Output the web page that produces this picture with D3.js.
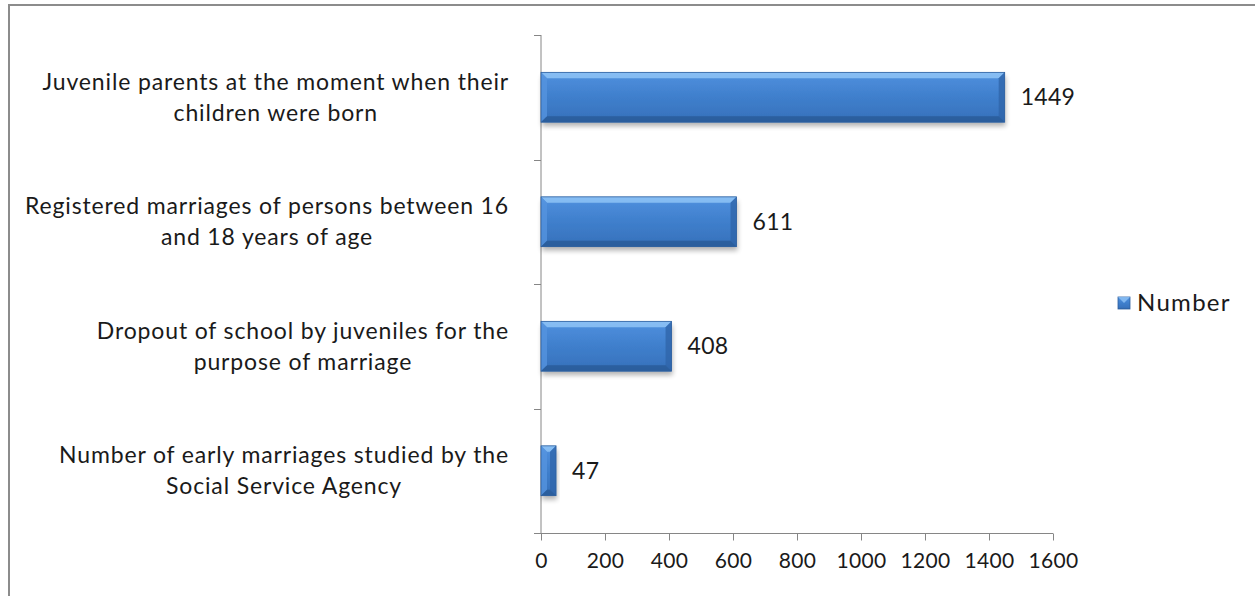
<!DOCTYPE html>
<html>
<head>
<meta charset="utf-8">
<script src="https://cdn.jsdelivr.net/npm/d3@7"></script>
<style>
  html, body { margin: 0; padding: 0; background: #fff; }
  svg { display: block; }
  text { font-family: Lato, "Open Sans", sans-serif; fill: #1a1a1a; }
</style>
</head>
<body>
<svg id="chart" width="1255" height="596"></svg>
<script>
// Category labels (top to bottom), each split into its wrapped lines
const categories = [
  ["Juvenile parents at the moment when their", "children were born"],
  ["Registered marriages of persons between 16", "and 18 years of age"],
  ["Dropout of school by juveniles for the", "purpose of marriage"],
  ["Number of early marriages studied by the", "Social Service Agency"]
];
const values = [1449, 611, 408, 47];
const xTicks = [0, 200, 400, 600, 800, 1000, 1200, 1400, 1600];
const seriesName = "Number";

const svg = d3.select("#chart");
const W = 1255, H = 596;

// outer frame (top and left edges visible)
svg.append("path")
  .attr("d", `M9,${H} L9,5 L${W},5`)
  .attr("fill", "none").attr("stroke", "#8c8c8c").attr("stroke-width", 2);

const plot = { left: 541, right: 1053, top: 35, bottom: 533 };

const x = d3.scaleLinear().domain([0, 1600]).range([plot.left, plot.right]);
const y = d3.scaleBand().domain(d3.range(categories.length))
  .range([plot.top, plot.bottom]).paddingInner(0.6).paddingOuter(0.3);

// defs: bar gradient and shadow
const defs = svg.append("defs");
const g = defs.append("linearGradient").attr("id", "barFill")
  .attr("x1", 0).attr("y1", 0).attr("x2", 0).attr("y2", 1);
[[0, "#5e9ee6"], [0.15, "#4b8bd9"], [0.5, "#3f7fcc"], [0.85, "#3975c0"], [1, "#3066aa"]]
  .forEach(([o, c]) => g.append("stop").attr("offset", o).attr("stop-color", c));

const sh = defs.append("filter").attr("id", "shadow")
  .attr("x", "-10%").attr("y", "-20%").attr("width", "130%").attr("height", "160%");
sh.append("feGaussianBlur").attr("in", "SourceAlpha").attr("stdDeviation", 2.5);
sh.append("feOffset").attr("dx", 1).attr("dy", 4).attr("result", "ob");
sh.append("feComponentTransfer").append("feFuncA").attr("type", "linear").attr("slope", 0.3);
const mg = sh.append("feMerge");
mg.append("feMergeNode");
mg.append("feMergeNode").attr("in", "SourceGraphic");

// axes
const axisColor = "#868686";
const axisG = svg.append("g");
axisG.append("line")
  .attr("x1", plot.left).attr("x2", plot.left)
  .attr("y1", plot.top).attr("y2", plot.bottom)
  .attr("stroke", axisColor);
const bandEdges = d3.range(categories.length + 1)
  .map(i => plot.top + i * (plot.bottom - plot.top) / categories.length);
axisG.selectAll("line.yt").data(bandEdges).join("line")
  .attr("class", "yt")
  .attr("x1", plot.left - 7).attr("x2", plot.left)
  .attr("y1", d => Math.round(d) + 0.5).attr("y2", d => Math.round(d) + 0.5)
  .attr("stroke", axisColor);

const xAxis = d3.axisBottom(x).tickValues(xTicks).tickFormat(d3.format("d"))
  .tickSize(7).tickPadding(13);
const xg = svg.append("g")
  .attr("transform", `translate(0,${plot.bottom + 0.5})`)
  .call(xAxis);
xg.select(".domain").attr("stroke", axisColor).attr("d", `M${plot.left},0H${plot.right}`);
xg.selectAll(".tick line").attr("stroke", axisColor);
xg.selectAll(".tick text")
  .attr("font-family", "Lato, 'Open Sans', sans-serif")
  .attr("font-size", 21).attr("letter-spacing", 0.3).attr("fill", "#1a1a1a");

// bars with bevel edges
const bevel = 6;
const bars = svg.append("g").selectAll("g.bar").data(values).join("g").attr("class", "bar");
bars.each(function(v, i) {
  const gb = d3.select(this);
  const x0 = x(0), x1 = x(v), y0 = y(i), y1 = y(i) + y.bandwidth();
  const b = Math.min(bevel, (x1 - x0) / 2);
  gb.append("rect")
    .attr("x", x0).attr("y", y0).attr("width", x1 - x0).attr("height", y1 - y0)
    .attr("fill", "url(#barFill)").attr("filter", "url(#shadow)");
  // top bevel (light)
  gb.append("path")
    .attr("d", `M${x0},${y0} L${x1},${y0} L${x1 - b},${y0 + b} L${x0 + b},${y0 + b} Z`)
    .attr("fill", "#8ec3f6").attr("opacity", 0.85);
  // left bevel
  gb.append("path")
    .attr("d", `M${x0},${y0} L${x0 + b},${y0 + b} L${x0 + b},${y1 - b} L${x0},${y1} Z`)
    .attr("fill", "#5594df").attr("opacity", 0.8);
  // right bevel (shaded)
  gb.append("path")
    .attr("d", `M${x1},${y0} L${x1},${y1} L${x1 - b},${y1 - b} L${x1 - b},${y0 + b} Z`)
    .attr("fill", "#2f65aa").attr("opacity", 0.8);
  // bottom bevel (dark)
  gb.append("path")
    .attr("d", `M${x0},${y1} L${x1},${y1} L${x1 - b},${y1 - b} L${x0 + b},${y1 - b} Z`)
    .attr("fill", "#295b99").attr("opacity", 0.8);
  gb.append("rect")
    .attr("x", x0).attr("y", y0).attr("width", x1 - x0).attr("height", y1 - y0)
    .attr("fill", "none").attr("stroke", "#2d5f9e").attr("stroke-width", 0.8);
});

// value labels
svg.append("g").selectAll("text").data(values).join("text")
  .attr("x", d => x(d) + 16)
  .attr("y", (d, i) => y(i) + y.bandwidth() / 2 + 8)
  .attr("font-size", 23).attr("letter-spacing", 0.3)
  .text(d => d);

// category labels: wrapped lines centred within a right-aligned block
const labelRight = 509;
const catG = svg.append("g");
categories.forEach((lines, i) => {
  const t = catG.append("text").attr("font-size", 23).attr("letter-spacing", 0.85)
    .attr("text-anchor", "middle");
  const cy = y(i) + y.bandwidth() / 2;
  const lh = 31;
  const spans = lines.map((ln, k) => t.append("tspan")
    .attr("y", cy - (lines.length - 1) * lh / 2 + k * lh + 8)
    .text(ln));
  const wMax = d3.max(spans, s => s.node().getComputedTextLength());
  spans.forEach(s => s.attr("x", labelRight - wMax / 2));
});

// legend
const lg = svg.append("g");
const ly = 303;
lg.append("rect").attr("x", 1118).attr("y", ly - 6).attr("width", 12).attr("height", 12)
  .attr("fill", "url(#barFill)").attr("stroke", "#2d5f9e").attr("stroke-width", 0.8);
lg.append("path").attr("d", `M1118,${ly - 6} L1130,${ly - 6} L1124,${ly} Z`)
  .attr("fill", "#8ec3f6").attr("opacity", 0.8);
lg.append("text").attr("x", 1137).attr("y", ly + 8).attr("font-size", 24)
  .attr("letter-spacing", 1.3).text(seriesName);
</script>
</body>
</html>
